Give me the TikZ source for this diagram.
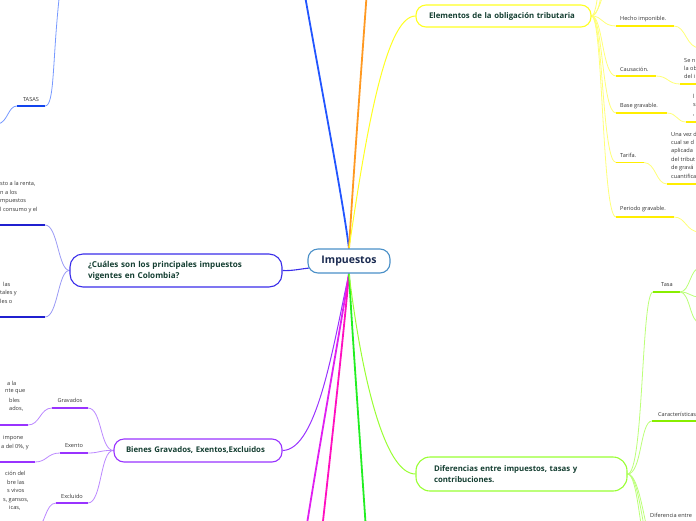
\documentclass[tikz,border=0pt]{standalone}
\usepackage{fontspec}
\setmainfont{Open Sans}
\usetikzlibrary{backgrounds,calc}
\definecolor{cBlue}{HTML}{2255FF}
\definecolor{cOrange}{HTML}{FF9922}
\definecolor{cYellow}{HTML}{FFFF22}
\definecolor{cYelLight}{HTML}{FFFF77}
\definecolor{cYelUl}{HTML}{FFEE00}
\definecolor{cCua}{HTML}{3A2EEA}
\definecolor{cCuaLight}{HTML}{9A9AF5}
\definecolor{cCuaUl}{HTML}{2020D0}
\definecolor{cPurple}{HTML}{9933FF}
\definecolor{cPurLight}{HTML}{BB88FF}
\definecolor{cMagA}{HTML}{E020F0}
\definecolor{cMagB}{HTML}{FF10C0}
\definecolor{cGreen}{HTML}{22EE22}
\definecolor{cLGreen}{HTML}{99FF33}
\definecolor{cLGLight}{HTML}{BBFF77}
\definecolor{cLGUl}{HTML}{88EE00}
\definecolor{cTasLight}{HTML}{7799FF}
\definecolor{cTasUl}{HTML}{1144EE}
\definecolor{cHub}{HTML}{4A90C8}
\definecolor{cNodeText}{HTML}{153F32}
\definecolor{cHubText}{HTML}{1A2A50}
\definecolor{cLbl}{HTML}{333333}
\begin{document}
\begin{tikzpicture}[x=1pt,y=-1pt,
  mainline/.style={line width=1.8pt},
  subline/.style={line width=0.8pt},
  ul/.style={line width=1.6pt},
  topic/.style={draw, line width=1.1pt, fill=white, align=left, inner ysep=0pt, text=cNodeText},
  lbl/.style={font=\fontsize{5.6}{6.6}\selectfont, text=cLbl, inner sep=0pt},
  frag/.style={font=\fontsize{5.6}{8.4}\selectfont, text=cLbl, inner sep=0pt, align=left, anchor=west}
]
\useasboundingbox (0,0) rectangle (696,520);

% ---------- nodes ----------
\node[draw=cHub, line width=1.1pt, fill=white, rounded corners=10pt, minimum width=82pt, minimum height=24pt, inner sep=0pt,
  font=\fontsize{10.5}{12}\selectfont\bfseries, text=cHubText] (imp) at (349,261) {Impuestos};
\node[topic, draw=cCua, rounded corners=13pt, minimum height=33pt, text width=176pt, inner xsep=18pt,
  font=\fontsize{8.1}{11}\selectfont\bfseries] (cua) at (176,270.5)
  {¿Cuáles son los principales impuestos\\vigentes en Colombia?};
\node[topic, draw=cPurple, rounded corners=10pt, minimum height=23pt, text width=144pt, inner xsep=12pt,
  font=\fontsize{7.8}{9}\selectfont\bfseries] (bien) at (198,450.5)
  {Bienes Gravados, Exentos,Excluidos};
\node[topic, draw=cYellow, rounded corners=10pt, minimum height=22pt, text width=149pt, inner xsep=13pt,
  font=\fontsize{7.8}{9}\selectfont\bfseries] (elem) at (503.5,16)
  {Elementos de la obligación tributaria};
\node[topic, draw=cLGreen, rounded corners=14pt, minimum height=34pt, text width=175pt, inner xsep=18pt,
  font=\fontsize{7.8}{10.5}\selectfont\bfseries] (dif) at (521.5,474)
  {Diferencias entre impuestos, tasas y\\contribuciones.};

% ---------- coordinates ----------
\coordinate (blueEnd) at (304,-10);
\coordinate (orangeEnd) at (367,-10);
\coordinate (magAEnd) at (306,530);
\coordinate (magBEnd) at (322,530);
\coordinate (greenEnd) at (366,530);
% TASAS
\coordinate (tasTop) at (60,-10);
\coordinate (tasR) at (45,106);
\coordinate (tasL) at (17,106);
\coordinate (tasChild) at (-2,124);
% Cuales children
\coordinate (cu1R) at (45,225); \coordinate (cu1L) at (-5,225);
\coordinate (cu2R) at (45,317); \coordinate (cu2L) at (-5,317);
% Bienes children
\coordinate (grR) at (88,408); \coordinate (grL) at (52,408);
\coordinate (exR) at (88,453); \coordinate (exL) at (60,453);
\coordinate (xcR) at (88,503); \coordinate (xcL) at (56,503);
\coordinate (gr2R) at (28,425); \coordinate (gr2L) at (-5,425);
\coordinate (ex2R) at (35,462); \coordinate (ex2L) at (-5,462);
\coordinate (xc2) at (36,528);
% Elementos children
\coordinate (heL) at (616,26); \coordinate (heR) at (674,26);
\coordinate (caL) at (616,76); \coordinate (caR) at (656,76);
\coordinate (baL) at (616,113); \coordinate (baR) at (667,113);
\coordinate (taL) at (616,162.5); \coordinate (taR) at (644,162.5);
\coordinate (peL) at (616,217); \coordinate (peR) at (674,217);
\coordinate (up1) at (603,-20); \coordinate (up2) at (608,-40); \coordinate (up3) at (600,-30);
\coordinate (he2) at (700,48);
\coordinate (ca2L) at (680,84); \coordinate (ca2R) at (700,84);
\coordinate (ba2L) at (686,122); \coordinate (ba2R) at (700,122);
\coordinate (ta2L) at (667,184); \coordinate (ta2R) at (700,184);
\coordinate (pe2) at (700,232);
% Diferencias children
\coordinate (tsL) at (653,292); \coordinate (tsR) at (680,292);
\coordinate (crL) at (652,421); \coordinate (crR) at (700,421);
\coordinate (dn1) at (646,540); \coordinate (dn2) at (651,545); \coordinate (dn3) at (656,550);
\coordinate (ts1) at (700,268); \coordinate (ts2) at (700,297); \coordinate (ts3) at (700,323);

% ---------- labels ----------
\node[lbl] (lTasas) at (31,99) {TASAS};
\node[lbl] (lGrav) at (70,400.5) {Gravados};
\node[lbl] (lExen) at (74,446) {Exento};
\node[lbl] (lExcl) at (72,496) {Excluido};
\node[lbl, anchor=west] (lHecho) at (620,19) {Hecho imponible.};
\node[lbl, anchor=west] (lCaus) at (620,69) {Causación.};
\node[lbl, anchor=west] (lBase) at (620,106) {Base gravable.};
\node[lbl, anchor=west] (lTar) at (620,155) {Tarifa.};
\node[lbl, anchor=west] (lPer) at (620,209.5) {Periodo gravable.};
\node[lbl] (lTasa) at (667,285) {Tasa};
\node[lbl, anchor=west] (lCar) at (658,414) {Características};
\node[lbl, anchor=west] (lDifE) at (650,515.5) {Diferencia entre};

% ---------- text fragments ----------
\node[frag] (f1) at (0,197) {sto a la renta,\\n a los\\mpuestos\\l consumo y el};
\node[frag] (f2) at (0,292.5) {\hspace{3pt}las\\tales y\\les o};
\node[frag] (f3a) at (7,383) {a la};
\node[frag] (f3b) at (5,391.5) {nte que};
\node[frag] (f3c) at (9,400) {bles};
\node[frag] (f3d) at (9,408.5) {ados,};
\node[frag] (f4) at (1,442.5) {\hspace{2pt}impone\\a del 0\%, y};
\node[frag] (f5) at (3,491) {\hspace{2pt}ción del\\\hspace{4pt}bre las\\\hspace{4pt}s vivos\\s, gansos,\\\hspace{6pt}icas,};
\node[frag] (f6) at (684,68.5) {Se n\\la ob\\del i};
\node[frag] (f7) at (693,105) {l\\s\\,};
\node[frag] (f8) at (671,155) {Una vez d\\cual se d\\aplicada\\del tribut\\de gravá\\cuantifica};

% ---------- connectors ----------
\begin{pgfonlayer}{background}
\begin{scope}
\clip (0,0) rectangle (696,520);
\draw[mainline, cBlue] (imp.north) .. controls (343,200) and (318,70) .. (blueEnd);
\draw[mainline, cOrange] (imp.north) .. controls (353,180) and (362,60) .. (orangeEnd);
\draw[subline, cYellow, line width=1pt] (imp.north) .. controls (365,140) and (385,16) .. (elem.west);
\draw[subline, cCua, line width=1.1pt] ($(imp.west)+(2,7)$) .. controls (300,269) and (292,271) .. (cua.east);
\draw[subline, cPurple, line width=1pt] (imp.south) .. controls (334,340) and (318,450) .. (bien.east);
\draw[mainline, cMagA] (imp.south) .. controls (340,330) and (322,430) .. (magAEnd);
\draw[mainline, cMagB] (imp.south) .. controls (344,330) and (332,440) .. (magBEnd);
\draw[mainline, cGreen] (imp.south) .. controls (352,330) and (360,440) .. (greenEnd);
\draw[subline, cLGreen, line width=1pt] (imp.south) .. controls (362,380) and (385,474) .. (dif.west);

% TASAS
\draw[subline, cTasLight] (tasTop) .. controls (52,60) and (55,106) .. (tasR);
\draw[ul, cTasUl] (tasL) -- (tasR);
\draw[subline, cTasLight] (tasL) .. controls (8,106) and (8,122) .. (tasChild);

% Cuales
\draw[subline, cCuaLight] (cua.west) .. controls (58,270) and (58,225) .. (cu1R);
\draw[subline, cCuaLight] (cua.west) .. controls (58,270) and (58,317) .. (cu2R);
\draw[ul, cCuaUl] (cu1L) -- (cu1R);
\draw[ul, cCuaUl] (cu2L) -- (cu2R);

% Bienes
\draw[subline, cPurLight] (bien.west) .. controls (100,450) and (102,408) .. (grR);
\draw[subline, cPurLight] (bien.west) .. controls (100,450) and (100,453) .. (exR);
\draw[subline, cPurLight] (bien.west) .. controls (100,450) and (102,503) .. (xcR);
\draw[ul, cPurple] (grL) -- (grR);
\draw[ul, cPurple] (exL) -- (exR);
\draw[ul, cPurple] (xcL) -- (xcR);
\draw[subline, cPurLight] (grL) .. controls (40,408) and (40,425) .. (gr2R);
\draw[subline, cPurLight] (exL) .. controls (47,453) and (47,462) .. (ex2R);
\draw[subline, cPurLight] (xcL) .. controls (45,503) and (45,528) .. (xc2);
\draw[ul, cPurple] (gr2L) -- (gr2R);
\draw[ul, cPurple] (ex2L) -- (ex2R);

% Elementos
\foreach \c in {heL,caL,baL,taL,peL}{
  \draw[subline, cYelLight] (elem.east) .. controls (603,16) and ($(\c)+(-14,0)$) .. (\c);
}
\draw[subline, cYelLight] (elem.east) .. controls (598,16) and (601,0) .. (up1);
\draw[subline, cYelLight] (elem.east) .. controls (599,14) and (606,-10) .. (up2);
\draw[subline, cYelLight] (elem.east) .. controls (596,15) and (598,-5) .. (up3);
\draw[ul, cYelUl] (heL) -- (heR);
\draw[ul, cYelUl] (caL) -- (caR);
\draw[ul, cYelUl] (baL) -- (baR);
\draw[ul, cYelUl] (taL) -- (taR);
\draw[ul, cYelUl] (peL) -- (peR);
\draw[subline, cYelLight] (heR) .. controls (686,26) and (686,48) .. (he2);
\draw[subline, cYelLight] (caR) .. controls (668,76) and (668,84) .. (ca2L);
\draw[subline, cYelLight] (baR) .. controls (677,113) and (677,122) .. (ba2L);
\draw[subline, cYelLight] (taR) .. controls (656,163) and (656,184) .. (ta2L);
\draw[subline, cYelLight] (peR) .. controls (686,217) and (686,232) .. (pe2);
\draw[ul, cYelUl] (ca2L) -- (ca2R);
\draw[ul, cYelUl] (ba2L) -- (ba2R);
\draw[ul, cYelUl] (ta2L) -- (ta2R);

% Diferencias
\draw[subline, cLGLight] (dif.east) .. controls (644,474) and (641,292) .. (tsL);
\draw[subline, cLGLight] (dif.east) .. controls (642,474) and (640,421) .. (crL);
\draw[subline, cLGLight] (dif.east) .. controls (638,474) and (640,540) .. (dn1);
\draw[subline, cLGLight] (dif.east) .. controls (640,474) and (643,545) .. (dn2);
\draw[subline, cLGLight] (dif.east) .. controls (642,474) and (646,550) .. (dn3);
\draw[ul, cLGUl] (tsL) -- (tsR);
\draw[ul, cLGUl] (crL) -- (crR);
\draw[subline, cLGLight] (tsR) .. controls (690,292) and (690,268) .. (ts1);
\draw[subline, cLGLight] (tsR) .. controls (690,292) and (690,297) .. (ts2);
\draw[subline, cLGLight] (tsR) .. controls (690,292) and (690,323) .. (ts3);
\end{scope}
\end{pgfonlayer}
\end{tikzpicture}
\end{document}
